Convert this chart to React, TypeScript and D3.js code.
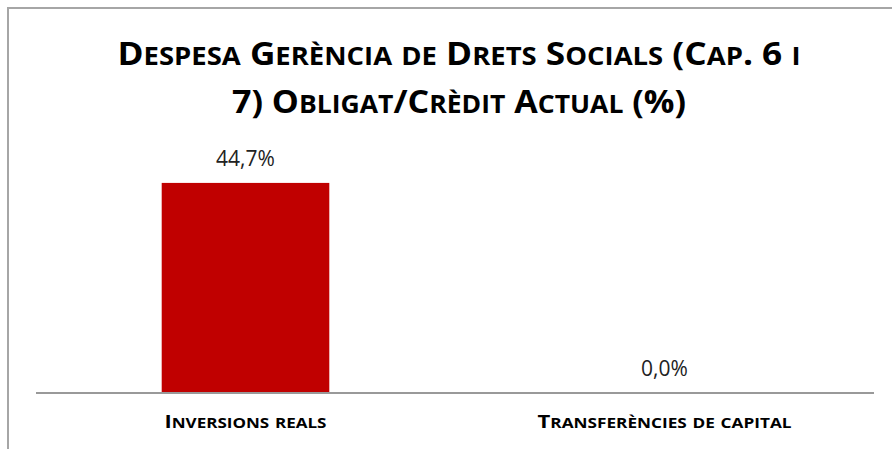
import React from "react";
import * as d3 from "d3";

const categories = ["Inversions reals", "Transferències de capital"];
const values = [44.7, 0.0];
const valueLabels = ["44,7%", "0,0%"];
const categoryLabelWidths = [162, 254];
const titleLines = ["Despesa Gerència de Drets Socials (Cap. 6 i", "7) Obligat/Crèdit Actual (%)"];
const titleWidths = [683, 454];

const W = 892;
const H = 449;

function smallCaps(text: string, size: number, ratio: number) {
  const runs: { low: boolean; s: string }[] = [];
  for (const ch of text) {
    const low = ch !== ch.toUpperCase();
    const last = runs[runs.length - 1];
    if (last && last.low === low) last.s += ch;
    else runs.push({ low, s: ch });
  }
  return runs.map((r, i) => (
    <tspan key={i} fontSize={r.low ? size * ratio : size}>{r.s.toUpperCase()}</tspan>
  ));
}

export default function App() {
  const x = d3.scaleBand<string>().domain(categories).range([36, 874]).paddingInner(0.6).paddingOuter(0.3);
  const y = d3.scaleLinear().domain([0, 50]).range([393, 158]);
  const font = "'Open Sans', sans-serif";
  return (
    <svg width={W} height={H} style={{ position: "absolute", left: 0, top: 0, background: "#fff" }}>
      <rect x={0} y={0} width={W} height={H} fill="#fff" />
      <path d={`M8,${H} L8,8 L${W},8`} fill="none" stroke="#a6a6a6" strokeWidth={2} />
      {titleLines.map((t, i) => (
        <text key={t} x={459} y={65 + i * 48} textAnchor="middle" fontFamily={font} fontWeight="bold" fontSize={33}
          fill="#000" textLength={titleWidths[i]} lengthAdjust="spacingAndGlyphs">{smallCaps(t, 33, 0.78)}</text>
      ))}
      {categories.map((c, i) => (
        <g key={c}>
          <rect x={x(c)} y={y(values[i])} width={x.bandwidth()} height={393 - y(values[i])} fill="#c00000" />
          <text x={(x(c) as number) + x.bandwidth() / 2} y={y(values[i]) - 17} textAnchor="middle"
            fontFamily={font} fontSize={21} fill="#222">{valueLabels[i]}</text>
          <text x={(x(c) as number) + x.bandwidth() / 2} y={428} textAnchor="middle"
            fontFamily={font} fontWeight="bold" fontSize={18} fill="#000"
            textLength={categoryLabelWidths[i]} lengthAdjust="spacingAndGlyphs">{smallCaps(c, 18, 0.78)}</text>
        </g>
      ))}
      <line x1={36} x2={874} y1={393} y2={393} stroke="#999" strokeWidth={2} />
    </svg>
  );
}
